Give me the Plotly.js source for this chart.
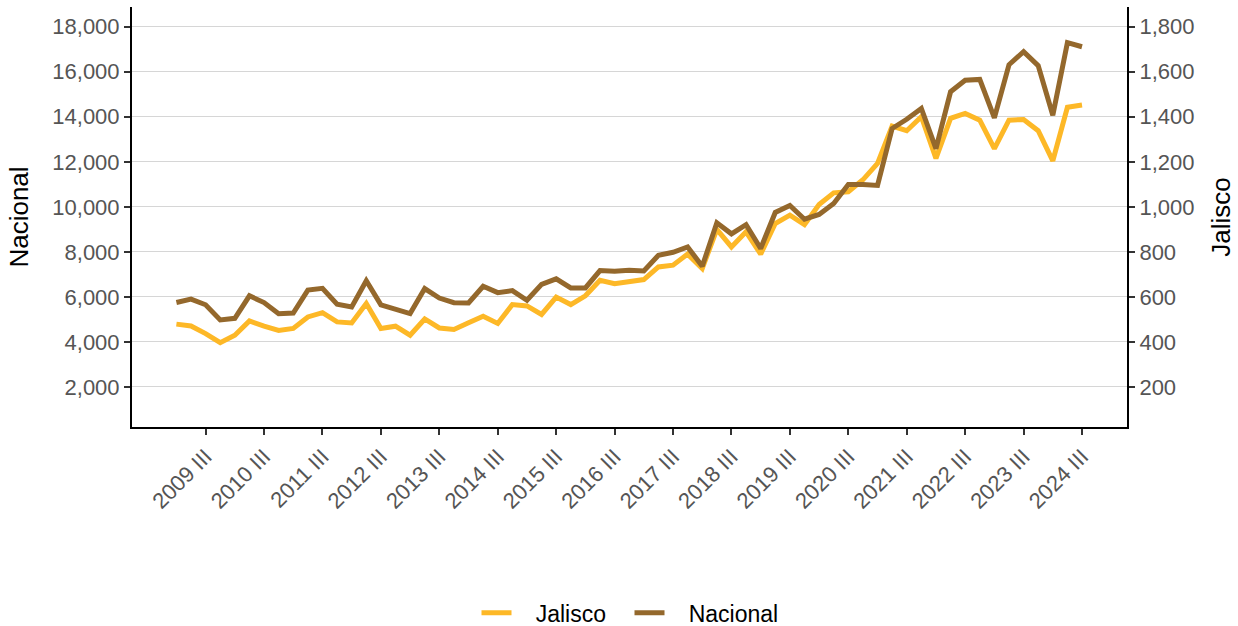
<!DOCTYPE html>
<html>
<head>
<meta charset="utf-8">
<script src="https://cdn.plot.ly/plotly-3.0.1.min.js"></script>
<style>html,body{margin:0;padding:0;background:#fff;}#chart{width:1238px;height:626px;}</style>
</head>
<body>
<div id="chart"></div>
<script>
const periods = [
  "2009 I","2009 II","2009 III","2009 IV","2010 I","2010 II","2010 III","2010 IV",
  "2011 I","2011 II","2011 III","2011 IV","2012 I","2012 II","2012 III","2012 IV",
  "2013 I","2013 II","2013 III","2013 IV","2014 I","2014 II","2014 III","2014 IV",
  "2015 I","2015 II","2015 III","2015 IV","2016 I","2016 II","2016 III","2016 IV",
  "2017 I","2017 II","2017 III","2017 IV","2018 I","2018 II","2018 III","2018 IV",
  "2019 I","2019 II","2019 III","2019 IV","2020 I","2020 II","2020 III","2020 IV",
  "2021 I","2021 II","2021 III","2021 IV","2022 I","2022 II","2022 III","2022 IV",
  "2023 I","2023 II","2023 III","2023 IV","2024 I","2024 II","2024 III"
];
const jalisco = [
  479,471,437,397,430,493,470,451,460,511,530,489,484,571,460,470,
  430,502,462,455,485,514,482,566,560,522,599,566,605,674,659,667,
  677,733,741,790,726,900,822,889,790,926,963,921,1010,1062,1067,1120,
  1193,1359,1338,1400,1215,1393,1415,1385,1259,1385,1388,1338,1204,1442,1452
];
const nacional = [
  5750,5900,5650,4980,5050,6050,5750,5250,5280,6300,6380,5680,5550,6720,5650,5430,
  5260,6370,5950,5740,5730,6470,6190,6280,5850,6560,6800,6400,6400,7170,7140,7180,
  7150,7850,7980,8220,7360,9290,8800,9210,8150,9750,10060,9450,9660,10150,10990,10990,
  10950,13480,13890,14370,12590,15110,15620,15660,13950,16310,16890,16270,14070,17290,17110
];
const xTicks = ["2009 III","2010 III","2011 III","2012 III","2013 III","2014 III","2015 III","2016 III",
  "2017 III","2018 III","2019 III","2020 III","2021 III","2022 III","2023 III","2024 III"];
const nacTicks = [2000,4000,6000,8000,10000,12000,14000,16000,18000];
const jalTicks = [200,400,600,800,1000,1200,1400,1600,1800];

const FONT = "Liberation Sans, Arial, sans-serif";
const tickFont = {family: FONT, size: 22, color: "#555555"};
const PAD = "\u00a0\u00a0\u00a0";

const traces = [
  {x: periods, y: jalisco, name: PAD + "Jalisco", type: "scatter", mode: "lines",
   line: {color: "#FDB827", width: 5}, yaxis: "y"},
  {x: periods, y: nacional, name: PAD + "Nacional", type: "scatter", mode: "lines",
   line: {color: "#94682C", width: 5}, yaxis: "y2"}
];

const layout = {
  width: 1238, height: 626,
  paper_bgcolor: "#fff", plot_bgcolor: "#fff",
  margin: {l: 132, r: 111, t: 7, b: 199, autoexpand: false},
  showlegend: true,
  legend: {orientation: "h", x: 0.5, xanchor: "center", yref: "container", y: 0.021, yanchor: "middle",
           font: {family: FONT, size: 23, color: "#000"}, traceorder: "normal",
           entrywidth: 108, entrywidthmode: "pixels"},
  xaxis: {type: "category", range: [-3.04, 65.08], tickvals: xTicks, ticktext: xTicks,
          tickangle: -45, tickfont: tickFont, showgrid: false, zeroline: false,
          showline: true, linecolor: "#000", linewidth: 2,
          ticks: "outside", ticklen: 6, tickwidth: 2, tickcolor: "#333"},
  yaxis: {side: "right", range: [22.2, 1887.5], tickvals: jalTicks, tickformat: ",d",
          tickfont: tickFont, showgrid: true, gridcolor: "#d6d6d6", gridwidth: 1,
          zeroline: false, showline: true, linecolor: "#000", linewidth: 2,
          ticks: "outside", ticklen: 6, tickwidth: 2, tickcolor: "#333",
          title: {text: "Jalisco", font: {family: FONT, size: 26, color: "#000"}, standoff: 18}},
  yaxis2: {side: "left", overlaying: "y", range: [222, 18875], tickvals: nacTicks, tickformat: ",d",
           tickfont: tickFont, showgrid: false, zeroline: false, showline: true,
           linecolor: "#000", linewidth: 2,
           ticks: "outside", ticklen: 6, tickwidth: 2, tickcolor: "#333",
           title: {text: "Nacional", font: {family: FONT, size: 26, color: "#000"}, standoff: 16}}
};

Plotly.newPlot("chart", traces, layout, {displayModeBar: false, staticPlot: true});
</script>
</body>
</html>
